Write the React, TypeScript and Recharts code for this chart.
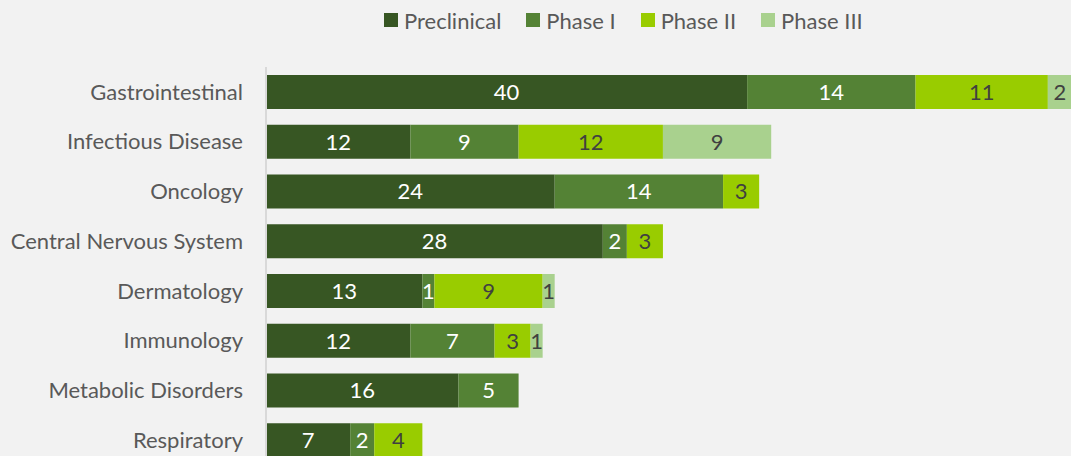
import { BarChart, Bar, XAxis, YAxis, Legend, LabelList } from "recharts";

const categories = [
  "Gastrointestinal",
  "Infectious Disease",
  "Oncology",
  "Central Nervous System",
  "Dermatology",
  "Immunology",
  "Metabolic Disorders",
  "Respiratory",
];
const preclinical = [40, 12, 24, 28, 13, 12, 16, 7];
const phase1 = [14, 9, 14, 2, 1, 7, 5, 2];
const phase2 = [11, 12, 3, 3, 9, 3, 0, 4];
const phase3 = [2, 9, 0, 0, 1, 1, 0, 0];

const series = [
  { key: "preclinical", name: "Preclinical", color: "#375623", label: "#ffffff" },
  { key: "phase1", name: "Phase I", color: "#548235", label: "#ffffff" },
  { key: "phase2", name: "Phase II", color: "#99cc00", label: "#404040" },
  { key: "phase3", name: "Phase III", color: "#a9d18e", label: "#404040" },
];

const data = categories.map((name, i) => ({
  name,
  preclinical: preclinical[i],
  phase1: phase1[i],
  phase2: phase2[i],
  phase3: phase3[i],
}));

const font = "Lato, 'Open Sans', sans-serif";

function LegendRow() {
  return (
    <div style={{ display: "flex", alignItems: "center", height: 24, fontFamily: font, fontSize: 22, color: "#595959" }}>
      {series.map((s) => (
        <div key={s.key} style={{ display: "flex", alignItems: "center", marginRight: 25 }}>
          <span style={{ width: 14, height: 14, background: s.color, marginRight: 6, display: "inline-block" }} />
          <span>{s.name}</span>
        </div>
      ))}
    </div>
  );
}

export default function App() {
  return (
    <div style={{ position: "fixed", left: 0, top: 0, width: 1071, height: 456, overflow: "hidden", background: "#f2f2f2" }}>
      <BarChart
        layout="vertical"
        width={1108}
        height={470}
        data={data}
        margin={{ top: 43, right: 0, left: 0, bottom: 5 }}
      >
        <XAxis type="number" domain={[0, 70]} hide />
        <YAxis
          type="category"
          dataKey="name"
          width={266}
          tickLine={false}
          tickSize={0}
          tickMargin={23}
          axisLine={{ stroke: "#d9d9d9", strokeWidth: 2 }}
          tick={{ fill: "#595959", fontSize: 22, fontFamily: font }}
        />
        <Legend
          verticalAlign="top"
          align="left"
          wrapperStyle={{ left: 384, top: 8, width: 600, height: 24 }}
          content={() => <LegendRow />}
        />
        {series.map((s) => (
          <Bar key={s.key} dataKey={s.key} name={s.name} stackId="a" fill={s.color} barSize={34} isAnimationActive={false}>
            <LabelList
              dataKey={s.key}
              position="center"
              fill={s.label}
              fontSize={22}
              fontFamily={font}
              formatter={(v: any) => (v ? v : "")}
            />
          </Bar>
        ))}
      </BarChart>
    </div>
  );
}
